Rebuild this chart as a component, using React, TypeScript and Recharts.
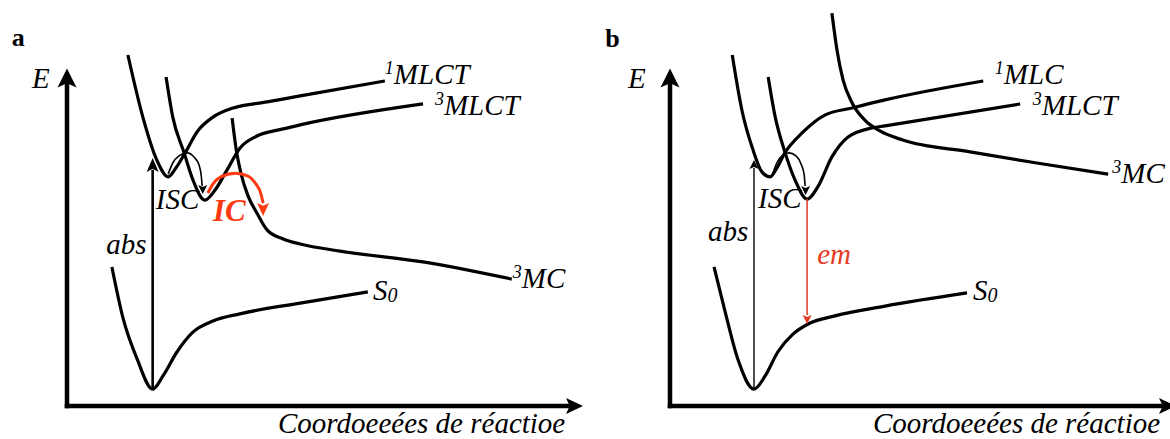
import React from "react";
import {
  Line,
  LineChart,
  ReferenceDot,
  ReferenceLine,
  XAxis,
  YAxis,
} from "recharts";

type Pt = { x: number; y: number };

const FONT = "'Liberation Serif', 'Times New Roman', serif";
const RED_IC = "#ff3a12";
const RED_EM = "#e53b23";

const zip = (xs: number[], ys: number[]): Pt[] =>
  xs.map((x, i) => ({ x, y: ys[i] }));

// ---- panel a : energy (0-12) against reaction coordinate (0-10) ----
const singletAx = [1.18, 1.47, 1.74, 1.96, 2.11, 2.29, 2.52, 2.83, 3.22, 3.88, 4.52, 6.16];
const singletAy = [10.4, 8.56, 7.29, 6.79, 7.05, 7.5, 8.12, 8.56, 8.83, 9.01, 9.19, 9.63];
const tripletAx = [1.92, 2.05, 2.27, 2.44, 2.67, 2.87, 3.1, 3.35, 3.68, 4.19, 4.52, 6.9];
const tripletAy = [9.75, 8.56, 7.5, 6.7, 6.1, 6.4, 6.99, 7.64, 8.0, 8.21, 8.33, 8.95];
const mcAx = [3.2, 3.28, 3.37, 3.51, 3.68, 3.88, 4.19, 4.52, 5.29, 6.9, 8.62];
const mcAy = [8.53, 7.59, 6.9, 6.22, 5.72, 5.21, 4.95, 4.8, 4.59, 4.27, 3.76];
const groundAx = [0.87, 1.09, 1.36, 1.66, 1.86, 2.13, 2.44, 2.83, 3.35, 4.52, 5.83];
const groundAy = [4.12, 2.58, 1.39, 0.5, 0.89, 1.6, 2.19, 2.52, 2.73, 3.05, 3.38];
const absAx = [1.66, 1.66];
const absAy = [0.5, 7.0];
const iscAx = [1.96, 2.05, 2.17, 2.33, 2.46, 2.56, 2.6, 2.62];
const iscAy = [6.87, 7.2, 7.41, 7.5, 7.38, 7.14, 6.84, 6.52];
const icAx = [2.73, 2.83, 2.98, 3.26, 3.51, 3.66, 3.76, 3.8];
const icAy = [6.31, 6.58, 6.79, 6.9, 6.81, 6.58, 6.28, 6.01];

// ---- panel b ----
const singletBx = [1.23, 1.42, 1.64, 1.82, 1.98, 2.11, 2.27, 2.61, 3.06, 3.6, 4.25, 6.19];
const singletBy = [10.4, 8.77, 7.59, 6.93, 6.79, 7.05, 7.5, 8.09, 8.62, 8.83, 9.07, 9.63];
const tripletBx = [1.94, 2.08, 2.27, 2.47, 2.71, 2.92, 3.2, 3.52, 3.99, 4.25, 6.92];
const tripletBy = [9.75, 8.56, 7.53, 6.7, 6.13, 6.49, 7.38, 7.97, 8.24, 8.3, 8.95];
const mcBx = [3.2, 3.3, 3.42, 3.6, 3.85, 4.15, 4.6, 5.93, 7.25, 8.66];
const mcBy = [11.64, 10.55, 9.66, 8.98, 8.47, 8.15, 7.88, 7.53, 7.2, 6.87];
const groundBx = [0.87, 1.09, 1.34, 1.66, 1.88, 2.13, 2.43, 2.73, 3.26, 4.25, 5.87];
const groundBy = [4.12, 2.79, 1.39, 0.5, 0.89, 1.6, 2.13, 2.43, 2.67, 2.96, 3.35];
const absBx = [1.66, 1.66];
const absBy = [0.5, 7.05];
const iscBx = [2.02, 2.11, 2.21, 2.35, 2.49, 2.59, 2.65, 2.67];
const iscBy = [6.84, 7.2, 7.41, 7.5, 7.41, 7.17, 6.87, 6.52];
const emBx = [2.71, 2.71];
const emBy = [6.13, 2.7];

type Curve = { key: string; data: Pt[]; color: string; width: number; type: "monotone" | "linear" };
type Head = { x: number; y: number; dir: "up" | "down" | "right"; len: number; half: number; color: string };
type Tag = {
  x: number;
  y: number;
  main: string;
  sup?: string;
  sub?: string;
  color?: string;
  bold?: boolean;
  upright?: boolean;
  size?: number;
};

const arrowHead = (h: Head) => (p: any) => {
  const { cx, cy } = p;
  const n = h.len * 0.22;
  let d = "";
  if (h.dir === "up")
    d = `M${cx},${cy} L${cx - h.half},${cy + h.len} L${cx},${cy + h.len - n} L${cx + h.half},${cy + h.len} Z`;
  if (h.dir === "down")
    d = `M${cx},${cy} L${cx - h.half},${cy - h.len} L${cx},${cy - h.len + n} L${cx + h.half},${cy - h.len} Z`;
  if (h.dir === "right")
    d = `M${cx},${cy} L${cx - h.len},${cy - h.half} L${cx - h.len + n},${cy} L${cx - h.len},${cy + h.half} Z`;
  return <path d={d} fill={h.color} />;
};

const tagShape = (t: Tag) => (p: any) => (
  <text
    x={p.cx}
    y={p.cy}
    fontFamily={FONT}
    fontSize={t.size ?? 29}
    fontStyle={t.upright ? "normal" : "italic"}
    fontWeight={t.bold ? "bold" : "normal"}
    fill={t.color ?? "#000"}
  >
    {t.sup && (
      <tspan fontSize={18} dy={-10}>
        {t.sup}
      </tspan>
    )}
    <tspan dy={t.sup ? 10 : 0}>{t.main}</tspan>
    {t.sub && (
      <tspan fontSize={20} dy={2}>
        {t.sub}
      </tspan>
    )}
  </text>
);

type PanelProps = {
  width: number;
  left: number;
  marginLeft: number;
  plotW: number;
  curves: Curve[];
  heads: Head[];
  tags: Tag[];
};

function Panel({ width, left, marginLeft, plotW, curves, heads, tags }: PanelProps) {
  const right = width - marginLeft - plotW;
  const axisHeads: Head[] = [
    { x: 0, y: 10, dir: "up", len: 19, half: 9.5, color: "#000" },
    { x: 10, y: 0, dir: "right", len: 17, half: 8, color: "#000" },
  ];
  return (
    <div style={{ position: "absolute", left, top: 0 }}>
      <LineChart
        width={width}
        height={439}
        margin={{ top: 1, right, bottom: 33, left: marginLeft }}
      >
        <XAxis type="number" dataKey="x" domain={[0, 10]} allowDataOverflow hide />
        <YAxis type="number" dataKey="y" domain={[0, 12]} allowDataOverflow hide />
        <ReferenceLine
          segment={[{ x: 0, y: 0 }, { x: 0, y: 9.6 }]}
          stroke="#000"
          strokeWidth={4.5}
          strokeLinecap="square"
        />
        <ReferenceLine
          segment={[{ x: 0, y: 0 }, { x: 9.75, y: 0 }]}
          stroke="#000"
          strokeWidth={4.5}
          strokeLinecap="square"
        />
        {curves.map((c) => (
          <Line
            key={c.key}
            data={c.data}
            dataKey="y"
            type={c.type}
            stroke={c.color}
            strokeWidth={c.width}
            dot={false}
            activeDot={false}
            isAnimationActive={false}
          />
        ))}
        {[...axisHeads, ...heads].map((h, i) => (
          <ReferenceDot
            key={`h${i}`}
            x={h.x}
            y={h.y}
            r={0}
            ifOverflow="visible"
            shape={arrowHead(h)}
          />
        ))}
        {tags.map((t, i) => (
          <ReferenceDot
            key={`t${i}`}
            x={t.x}
            y={t.y}
            r={0}
            ifOverflow="visible"
            shape={tagShape(t)}
          />
        ))}
      </LineChart>
    </div>
  );
}

const TITLE = "Coordoeeées de réactioe";

export default function App() {
  const curvesA: Curve[] = [
    { key: "1MLCT", data: zip(singletAx, singletAy), color: "#000", width: 3.2, type: "monotone" },
    { key: "3MLCT", data: zip(tripletAx, tripletAy), color: "#000", width: 3.2, type: "monotone" },
    { key: "3MC", data: zip(mcAx, mcAy), color: "#000", width: 3.2, type: "monotone" },
    { key: "S0", data: zip(groundAx, groundAy), color: "#000", width: 3.2, type: "monotone" },
    { key: "abs", data: zip(absAx, absAy), color: "#000", width: 2.6, type: "linear" },
    { key: "isc", data: zip(iscAx, iscAy), color: "#000", width: 1.6, type: "monotone" },
    { key: "ic", data: zip(icAx, icAy), color: RED_IC, width: 3, type: "monotone" },
  ];
  const headsA: Head[] = [
    { x: 1.66, y: 7.35, dir: "up", len: 14, half: 6, color: "#000" },
    { x: 2.63, y: 6.28, dir: "down", len: 9, half: 4.5, color: "#000" },
    { x: 3.8, y: 5.63, dir: "down", len: 13, half: 6, color: RED_IC },
  ];
  const tagsA: Tag[] = [
    { x: -1.07, y: 10.67, main: "a", bold: true, upright: true, size: 26 },
    { x: -0.68, y: 9.42, main: "E" },
    { x: 6.16, y: 9.54, main: "MLCT", sup: "1" },
    { x: 7.13, y: 8.62, main: "MLCT", sup: "3" },
    { x: 8.64, y: 3.5, main: "MC", sup: "3" },
    { x: 5.93, y: 3.14, main: "S", sub: "0" },
    { x: 1.72, y: 5.84, main: "ISC" },
    { x: 2.83, y: 5.48, main: "IC", bold: true, color: RED_IC, size: 31 },
    { x: 0.76, y: 4.5, main: "abs" },
    { x: 4.09, y: -0.8, main: TITLE },
  ];

  const curvesB: Curve[] = [
    { key: "1MLC", data: zip(singletBx, singletBy), color: "#000", width: 3.2, type: "monotone" },
    { key: "3MLCT", data: zip(tripletBx, tripletBy), color: "#000", width: 3.2, type: "monotone" },
    { key: "3MC", data: zip(mcBx, mcBy), color: "#000", width: 3.2, type: "monotone" },
    { key: "S0", data: zip(groundBx, groundBy), color: "#000", width: 3.2, type: "monotone" },
    { key: "abs", data: zip(absBx, absBy), color: "#000", width: 1.4, type: "linear" },
    { key: "isc", data: zip(iscBx, iscBy), color: "#000", width: 1.6, type: "monotone" },
    { key: "em", data: zip(emBx, emBy), color: RED_EM, width: 1.5, type: "linear" },
  ];
  const headsB: Head[] = [
    { x: 1.66, y: 7.29, dir: "up", len: 9, half: 4.5, color: "#000" },
    { x: 2.68, y: 6.25, dir: "down", len: 9, half: 4.5, color: "#000" },
    { x: 2.71, y: 2.43, dir: "down", len: 9, half: 4.5, color: RED_EM },
  ];
  const tagsB: Tag[] = [
    { x: -1.28, y: 10.64, main: "b", bold: true, upright: true, size: 26 },
    { x: -0.83, y: 9.42, main: "E" },
    { x: 6.42, y: 9.54, main: "MLC", sup: "1" },
    { x: 7.17, y: 8.62, main: "MLCT", sup: "3" },
    { x: 8.74, y: 6.61, main: "MC", sup: "3" },
    { x: 5.99, y: 3.14, main: "S", sub: "0" },
    { x: 1.74, y: 5.87, main: "ISC" },
    { x: 0.75, y: 4.89, main: "abs" },
    { x: 2.91, y: 4.21, main: "em", color: RED_EM },
    { x: 4.01, y: -0.8, main: TITLE },
  ];

  return (
    <div
      style={{
        position: "absolute",
        left: 0,
        top: 0,
        width: 1170,
        height: 439,
        overflow: "hidden",
        background: "#fff",
      }}
    >
      <Panel width={585} left={0} marginLeft={67} plotW={516} curves={curvesA} heads={headsA} tags={tagsA} />
      <Panel width={595} left={585} marginLeft={85} plotW={506} curves={curvesB} heads={headsB} tags={tagsB} />
    </div>
  );
}
